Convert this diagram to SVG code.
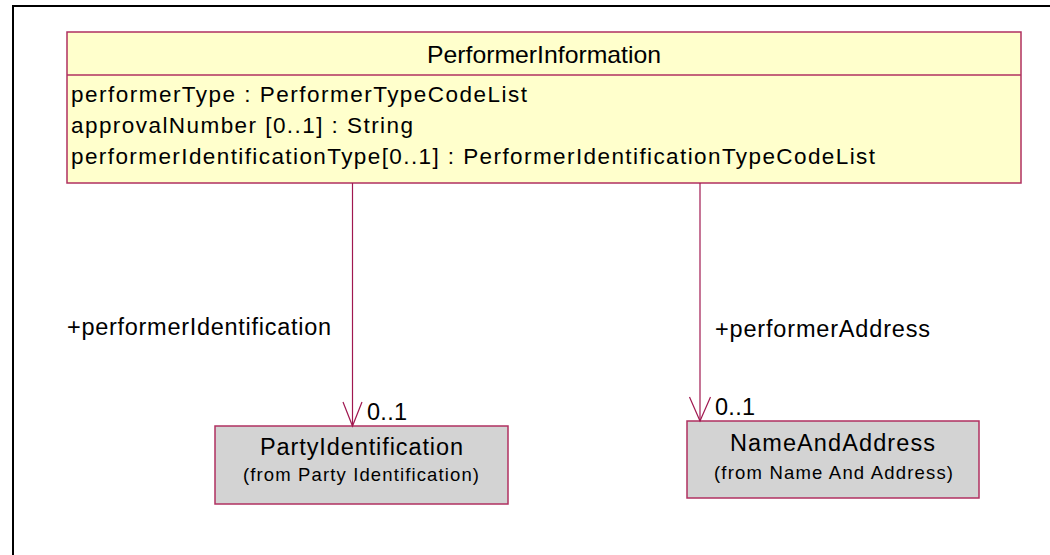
<svg xmlns="http://www.w3.org/2000/svg" width="1050" height="555" viewBox="0 0 1050 555">
<style>
text{font-family:"Liberation Sans",Arial,sans-serif;fill:#000}
.cls{fill:#ffffcc;stroke:#b03060;stroke-width:1.5}
.ext{fill:#d3d3d3;stroke:#b03060;stroke-width:1.5}
.conn{stroke:#a01850;stroke-width:1.2;fill:none}
.ttl{font-size:24px}
.att{font-size:22.5px}
.lbl{font-size:23.5px}
.sub{font-size:18.5px}
</style>
<rect x="13" y="6" width="1100" height="600" fill="#fff" stroke="#000" stroke-width="2"/>
<g id="PerformerInformation">
<rect class="cls" x="67" y="32" width="954" height="151"/>
<line class="cls" x1="67" y1="75" x2="1021" y2="75"/>
<text class="ttl" x="427" y="63" textLength="234" lengthAdjust="spacingAndGlyphs">PerformerInformation</text>
<text class="att" x="71" y="102" textLength="456" lengthAdjust="spacing">performerType : PerformerTypeCodeList</text>
<text class="att" x="71" y="133" textLength="342" lengthAdjust="spacing">approvalNumber [0..1] : String</text>
<text class="att" x="71" y="164" textLength="804" lengthAdjust="spacing">performerIdentificationType[0..1] : PerformerIdentificationTypeCodeList</text>
</g>
<g id="PartyIdentification">
<rect class="ext" x="215" y="426" width="293" height="78"/>
<text class="lbl" x="260" y="455" textLength="203" lengthAdjust="spacing">PartyIdentification</text>
<text class="sub" x="243" y="481" textLength="236" lengthAdjust="spacing">(from Party Identification)</text>
</g>
<g id="NameAndAddress">
<rect class="ext" x="687" y="421" width="292" height="77"/>
<text class="lbl" x="730" y="451" textLength="205" lengthAdjust="spacing">NameAndAddress</text>
<text class="sub" x="714" y="479" textLength="239" lengthAdjust="spacing">(from Name And Address)</text>
</g>
<g id="connectors">
<line class="conn" x1="352.5" y1="183" x2="352.5" y2="426"/>
<polyline class="conn" points="343,402 352.5,426 362,402"/>
<text class="lbl" x="67" y="335" textLength="264" lengthAdjust="spacing">+performerIdentification</text>
<text class="lbl" x="367" y="420" textLength="40" lengthAdjust="spacing">0..1</text>
<line class="conn" x1="700" y1="183" x2="700" y2="421"/>
<polyline class="conn" points="689.5,397 700,421 710.5,397"/>
<text class="lbl" x="715" y="337" textLength="215" lengthAdjust="spacing">+performerAddress</text>
<text class="lbl" x="715" y="415" textLength="40" lengthAdjust="spacing">0..1</text>
</g>
</svg>
